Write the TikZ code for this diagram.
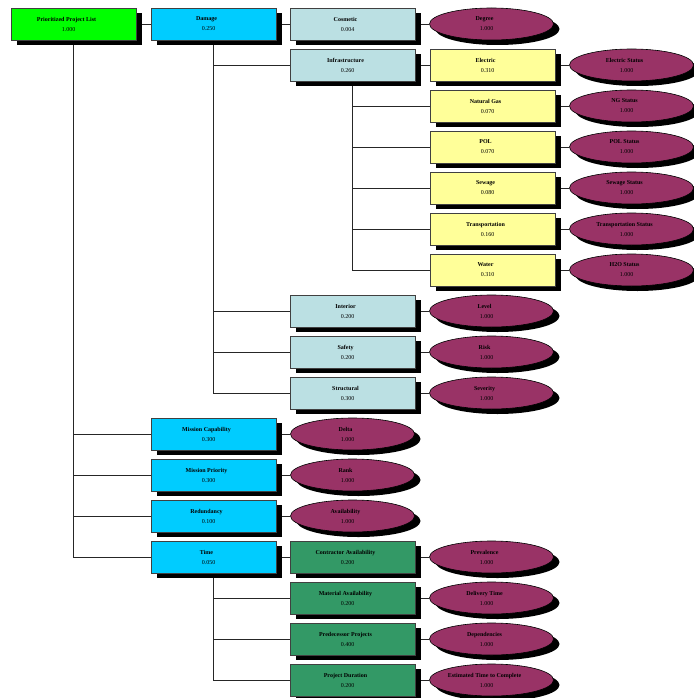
\documentclass[tikz,border=0pt]{standalone}
\usepackage{fontspec}
\setmainfont{Liberation Serif}
\usetikzlibrary{shapes.geometric,shadows,backgrounds}
\definecolor{rootgreen}{HTML}{00FF00}
\definecolor{critcyan}{HTML}{00CCFF}
\definecolor{subblue}{HTML}{BBE0E3}
\definecolor{subyellow}{HTML}{FFFF99}
\definecolor{subgreen}{HTML}{339966}
\definecolor{metricplum}{HTML}{993366}
\tikzset{
  shade/.style ={drop shadow={shadow xshift=6pt,shadow yshift=-5pt,fill=black,opacity=1}},
  box/.style   ={draw=black!75,line width=0.8pt,minimum width=125pt,minimum height=32pt,inner sep=0pt,
                 align=center,font=\fontsize{6}{10}\selectfont,shade},
  goal/.style  ={box,fill=rootgreen},
  crit/.style  ={box,fill=critcyan},
  subb/.style  ={box,fill=subblue},
  suby/.style  ={box,fill=subyellow},
  subg/.style  ={box,fill=subgreen},
  metric/.style={ellipse,draw=black,line width=0.6pt,fill=metricplum,minimum width=124pt,minimum height=32pt,
                 inner sep=0pt,align=center,font=\fontsize{6}{10}\selectfont,shade},
  link/.style  ={line width=0.8pt,black!85},
}
% name and weight, set a little left of the middle
\newcommand{\itm}[2]{\textbf{#1}\hspace*{14pt}\\#2\hspace*{10pt}}

\begin{document}
\begin{tikzpicture}[x=1pt,y=-1pt]
  \useasboundingbox (0,0) rectangle (693,698);
  % first two levels
  \node[goal] (root) at (73.5,24) {\itm{Prioritized Project List}{1.000}};
  \node[crit] (dmg) at (213.5,24) {\itm{Damage}{0.250}};
  \node[crit] (mcap) at (213.5,434) {\itm{Mission Capability}{0.300}};
  \node[crit] (mpri) at (213.5,475) {\itm{Mission Priority}{0.300}};
  \node[crit] (redun) at (213.5,516) {\itm{Redundancy}{0.100}};
  \node[crit] (time) at (213.5,557) {\itm{Time}{0.050}};
  % damage
  \node[subb] (cosm) at (352.5,24) {\itm{Cosmetic}{0.004}};
  \node[subb] (infra) at (352.5,65) {\itm{Infrastructure}{0.260}};
  \node[subb] (inter) at (352.5,311) {\itm{Interior}{0.200}};
  \node[subb] (safe) at (352.5,352) {\itm{Safety}{0.200}};
  \node[subb] (struc) at (352.5,393) {\itm{Structural}{0.300}};
  % infrastructure
  \node[suby] (elec) at (492.5,65) {\itm{Electric}{0.310}};
  \node[suby] (ngas) at (492.5,106) {\itm{Natural Gas}{0.070}};
  \node[suby] (pol) at (492.5,147) {\itm{POL}{0.070}};
  \node[suby] (sew) at (492.5,188) {\itm{Sewage}{0.080}};
  \node[suby] (trans) at (492.5,229) {\itm{Transportation}{0.160}};
  \node[suby] (water) at (492.5,270) {\itm{Water}{0.310}};
  % time
  \node[subg] (contr) at (352.5,557) {\itm{Contractor Availability}{0.200}};
  \node[subg] (matl) at (352.5,598) {\itm{Material Availability}{0.200}};
  \node[subg] (pred) at (352.5,639) {\itm{Predecessor Projects}{0.400}};
  \node[subg] (pdur) at (352.5,680) {\itm{Project Duration}{0.200}};
  % metrics
  \node[metric] (degree) at (491.5,24) {\itm{Degree}{1.000}};
  \node[metric] (elecst) at (631.5,65) {\itm{Electric Status}{1.000}};
  \node[metric] (ngst) at (631.5,106) {\itm{NG Status}{1.000}};
  \node[metric] (polst) at (631.5,147) {\itm{POL Status}{1.000}};
  \node[metric] (sewst) at (631.5,188) {\itm{Sewage Status}{1.000}};
  \node[metric] (transst) at (631.5,229) {\itm{Transportation Status}{1.000}};
  \node[metric] (hwost) at (631.5,270) {\itm{H2O Status}{1.000}};
  \node[metric] (level) at (491.5,311) {\itm{Level}{1.000}};
  \node[metric] (risk) at (491.5,352) {\itm{Risk}{1.000}};
  \node[metric] (sever) at (491.5,393) {\itm{Severity}{1.000}};
  \node[metric] (delta) at (352.5,434) {\itm{Delta}{1.000}};
  \node[metric] (rank) at (352.5,475) {\itm{Rank}{1.000}};
  \node[metric] (avail) at (352.5,516) {\itm{Availability}{1.000}};
  \node[metric] (preval) at (491.5,557) {\itm{Prevalence}{1.000}};
  \node[metric] (deliv) at (491.5,598) {\itm{Delivery Time}{1.000}};
  \node[metric] (depend) at (491.5,639) {\itm{Dependencies}{1.000}};
  \node[metric] (esttime) at (491.5,680) {\itm{Estimated Time to Complete}{1.000}};
  % tree links
  \begin{scope}[on background layer]
  \draw[link] (root) -- (dmg); \draw[link] (dmg) -- (cosm); \draw[link] (infra) -- (elec);
  \draw[link] (time) -- (contr);
  \foreach \c in {mcap,mpri,redun,time} \draw[link] (root.south) |- (\c.west);
  \foreach \c in {infra,inter,safe,struc} \draw[link] (dmg.south) |- (\c.west);
  \foreach \c in {ngas,pol,sew,trans,water} \draw[link] (infra.south) |- (\c.west);
  \foreach \c in {matl,pred,pdur} \draw[link] (time.south) |- (\c.west);
  % metric links
  \draw[link] (cosm) -- (degree); \draw[link] (elec) -- (elecst); \draw[link] (ngas) -- (ngst);
  \draw[link] (pol) -- (polst); \draw[link] (sew) -- (sewst); \draw[link] (trans) -- (transst);
  \draw[link] (water) -- (hwost); \draw[link] (inter) -- (level); \draw[link] (safe) -- (risk);
  \draw[link] (struc) -- (sever); \draw[link] (mcap) -- (delta); \draw[link] (mpri) -- (rank);
  \draw[link] (redun) -- (avail); \draw[link] (contr) -- (preval); \draw[link] (matl) -- (deliv);
  \draw[link] (pred) -- (depend); \draw[link] (pdur) -- (esttime);
  \end{scope}
\end{tikzpicture}
\end{document}
